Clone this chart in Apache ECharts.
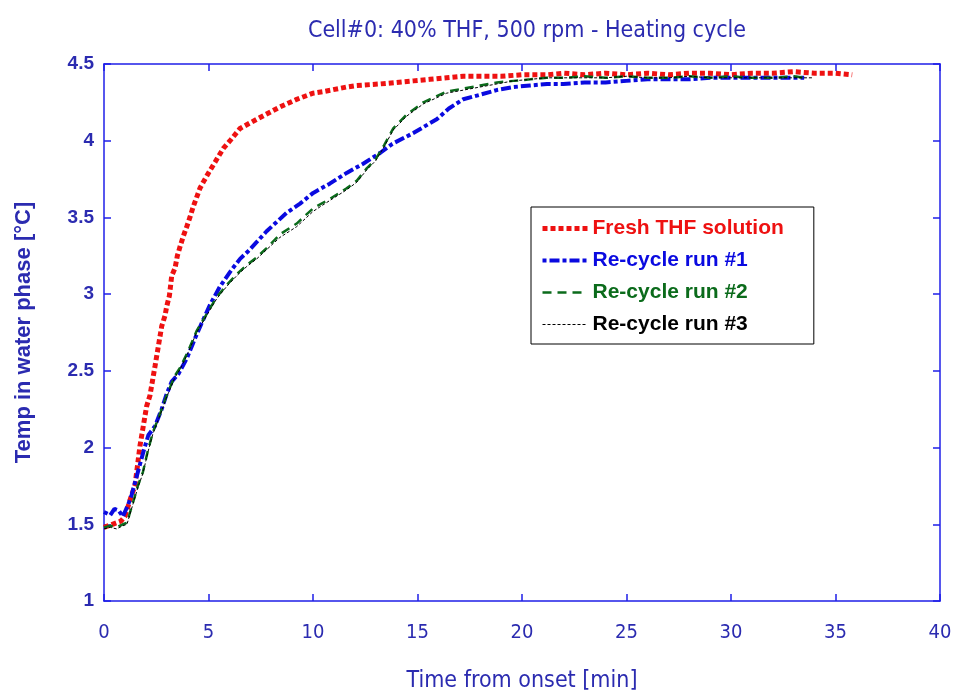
<!DOCTYPE html>
<html>
<head>
<meta charset="utf-8">
<script src="https://cdn.jsdelivr.net/npm/echarts@6/dist/echarts.min.js"></script>
<style>html,body{margin:0;padding:0;background:#fff;}#c{width:956px;height:698px;}</style>
</head>
<body>
<div id="c"></div>
<script>
// ---- Data (time in min, temperature in °C) ----
var seriesNames = ['Fresh THF solution', 'Re-cycle run #1', 'Re-cycle run #2', 'Re-cycle run #3'];
var xTicks = [0, 5, 10, 15, 20, 25, 30, 35, 40];
var yTicks = [1, 1.5, 2, 2.5, 3, 3.5, 4, 4.5];

var freshT = [0,0.4,0.8,1.0,1.16,1.32,1.48,1.6,1.72,1.88,2.04,2.2,2.44,2.6,2.76,2.92,3.0,3.13,3.24,3.4,3.51,3.64,3.8,3.96,4.11,4.27,4.43,4.59,4.75,5.0,5.31,5.71,6.03,6.51,7.31,8.42,9.22,10.01,10.49,11.61,12.09,13.21,14.0,14.8,15.6,16.4,17.2,18.0,19.0,20.0,21.2,22,23,24,25,26,27,28,29,30,31,32,33,34,35,35.8];
var freshY = [1.48,1.50,1.52,1.55,1.62,1.69,1.75,1.88,2.01,2.14,2.27,2.34,2.53,2.66,2.79,2.86,2.92,2.99,3.12,3.17,3.25,3.31,3.38,3.44,3.50,3.57,3.63,3.69,3.73,3.79,3.86,3.95,4.00,4.08,4.14,4.22,4.27,4.31,4.32,4.35,4.36,4.37,4.38,4.39,4.40,4.41,4.42,4.42,4.42,4.43,4.43,4.44,4.43,4.44,4.43,4.44,4.43,4.44,4.44,4.43,4.44,4.44,4.45,4.44,4.44,4.43];

var run1T = [0,0.3,0.5,0.7,0.9,1.16,1.32,1.5,1.72,1.9,2.12,2.44,2.76,3.0,3.24,3.56,3.96,4.35,4.67,5.07,5.55,6.11,6.51,6.9,7.31,7.78,8.26,8.74,9.38,10.01,10.8,11.61,12.4,13.21,13.8,14.8,15.92,16.5,17.19,18.0,18.79,19.6,20.38,21.2,21.98,23,24,25,26,27,28,29,30,31,32,33,33.5];
var run1Y = [1.58,1.56,1.60,1.59,1.55,1.63,1.69,1.78,1.89,1.98,2.08,2.14,2.25,2.35,2.43,2.48,2.58,2.71,2.81,2.93,3.05,3.16,3.23,3.28,3.34,3.41,3.47,3.53,3.59,3.66,3.72,3.79,3.85,3.92,3.98,4.05,4.14,4.21,4.27,4.30,4.33,4.35,4.36,4.37,4.37,4.38,4.38,4.39,4.40,4.40,4.40,4.41,4.41,4.41,4.41,4.41,4.41];

var run2T = [0,0.3,0.6,0.9,1.1,1.25,1.45,1.62,1.86,2.1,2.34,2.68,3.0,3.4,3.64,4.03,4.43,4.91,5.39,5.87,6.35,6.83,7.31,7.78,8.42,9.22,10.01,10.8,11.61,12.1,12.57,13.0,13.4,13.84,14.48,15.28,16.4,17.2,17.99,18.8,19.58,20.4,21.18,22,23,24,25,26,27,28,29,30,31,32,33,33.5];
var run2Y = [1.48,1.49,1.48,1.50,1.51,1.58,1.67,1.75,1.84,1.98,2.10,2.22,2.34,2.47,2.52,2.63,2.76,2.87,2.98,3.06,3.13,3.19,3.24,3.30,3.39,3.46,3.56,3.62,3.69,3.74,3.82,3.88,3.97,4.08,4.17,4.25,4.32,4.34,4.36,4.38,4.39,4.40,4.41,4.41,4.42,4.41,4.42,4.41,4.41,4.42,4.41,4.42,4.41,4.41,4.42,4.41];

var run3T = [0,0.3,0.6,0.9,1.1,1.25,1.45,1.62,1.86,2.1,2.34,2.68,3.0,3.4,3.64,4.03,4.43,4.91,5.39,5.87,6.35,6.83,7.31,7.78,8.42,9.22,10.01,10.8,11.61,12.1,12.57,13.0,13.4,13.84,14.48,15.28,16.4,17.2,17.99,18.8,19.58,20.4,21.18,22,23,24,25,26,27,28,29,30,31,32,33,33.9];
var run3Y = [1.47,1.48,1.47,1.49,1.50,1.57,1.66,1.74,1.83,1.97,2.09,2.21,2.33,2.46,2.51,2.62,2.75,2.86,2.97,3.05,3.12,3.18,3.23,3.29,3.37,3.44,3.54,3.61,3.68,3.73,3.81,3.87,3.96,4.07,4.16,4.24,4.31,4.33,4.35,4.37,4.39,4.40,4.41,4.41,4.41,4.41,4.42,4.41,4.41,4.42,4.41,4.41,4.41,4.41,4.41,4.41];

function zip(t, y) { return t.map(function (v, i) { return [v, y[i]]; }); }

var axisBlue = '#1f1fe8';
var textBlue = '#2b2bb0';
var narrow = '"Liberation Sans Narrow","DejaVu Sans Condensed","Liberation Sans",Arial,sans-serif';
var sans = '"Liberation Sans",Arial,sans-serif';

var chart = echarts.init(document.getElementById('c'), null, { renderer: 'canvas' });

function baseX(pos, showLabel) {
  return {
    type: 'value', position: pos, min: xTicks[0], max: xTicks[xTicks.length - 1], interval: 5,
    axisLine: { show: true, onZero: false, lineStyle: { color: axisBlue, width: 1.5 } },
    axisTick: { show: true, inside: true, length: 7, lineStyle: { color: axisBlue, width: 1.5 } },
    axisLabel: { show: showLabel, color: textBlue, fontFamily: narrow, fontSize: 20, margin: 22 },
    splitLine: { show: false }
  };
}
function baseY(pos, showLabel) {
  return {
    type: 'value', position: pos, min: yTicks[0], max: yTicks[yTicks.length - 1], interval: 0.5,
    axisLine: { show: true, onZero: false, lineStyle: { color: axisBlue, width: 1.5 } },
    axisTick: { show: true, inside: true, length: 7, lineStyle: { color: axisBlue, width: 1.5 } },
    axisLabel: { show: showLabel, color: textBlue, fontFamily: sans, fontWeight: 'bold', fontSize: 19, margin: 10,
      formatter: function (v) { return String(v); } },
    splitLine: { show: false }
  };
}

var xMain = baseX('bottom', true);
xMain.name = 'Time from onset [min]';
xMain.nameLocation = 'middle';
xMain.nameGap = 69;
xMain.nameTextStyle = { color: textBlue, fontFamily: narrow, fontSize: 23 };
var yMain = baseY('left', true);
yMain.name = 'Temp in water phase [°C]';
yMain.nameLocation = 'middle';
yMain.nameGap = 69;
yMain.nameTextStyle = { color: textBlue, fontFamily: sans, fontWeight: 'bold', fontSize: 22 };

var colors = ['#ee1111', '#0a0ae0', '#0b6b1b', '#000000'];
var dashes = [[5, 3], [4, 3, 10, 3], [9, 6], [3, 2]];
var widths = [5, 4, 2.5, 1];

chart.setOption({
  animation: false,
  backgroundColor: '#ffffff',
  title: {
    text: 'Cell#0: 40% THF, 500 rpm - Heating cycle',
    left: 522, top: 15, textAlign: 'center',
    textStyle: { color: textBlue, fontFamily: narrow, fontWeight: 'normal', fontSize: 23 }
  },
  grid: { left: 104, right: 16, top: 64, bottom: 94, containLabel: false },
  xAxis: [xMain, baseX('top', false)],
  yAxis: [yMain, baseY('right', false)],
  legend: {
    orient: 'vertical', left: 531, top: 207,
    backgroundColor: '#ffffff',
    borderColor: '#000000', borderWidth: 1,
    padding: [11, 30, 9, 9],
    itemWidth: 45, itemHeight: 14, itemGap: 11,
    itemStyle: { opacity: 0 },
    textStyle: { fontFamily: sans, fontWeight: 'bold', fontSize: 21 },
    data: seriesNames.map(function (n, i) {
      return { name: n, textStyle: { color: colors[i] },
        lineStyle: { color: colors[i], width: widths[i], type: dashes[i], cap: 'butt' } };
    })
  },
  series: seriesNames.map(function (n, i) {
    var d = [zip(freshT, freshY), zip(run1T, run1Y), zip(run2T, run2Y), zip(run3T, run3Y)][i];
    return { name: n, type: 'line', data: d, showSymbol: false, symbol: 'none', z: 2 + i,
      itemStyle: { color: colors[i] },
      lineStyle: { color: colors[i], width: widths[i], type: dashes[i], cap: 'butt' } };
  })
});
</script>
</body>
</html>
